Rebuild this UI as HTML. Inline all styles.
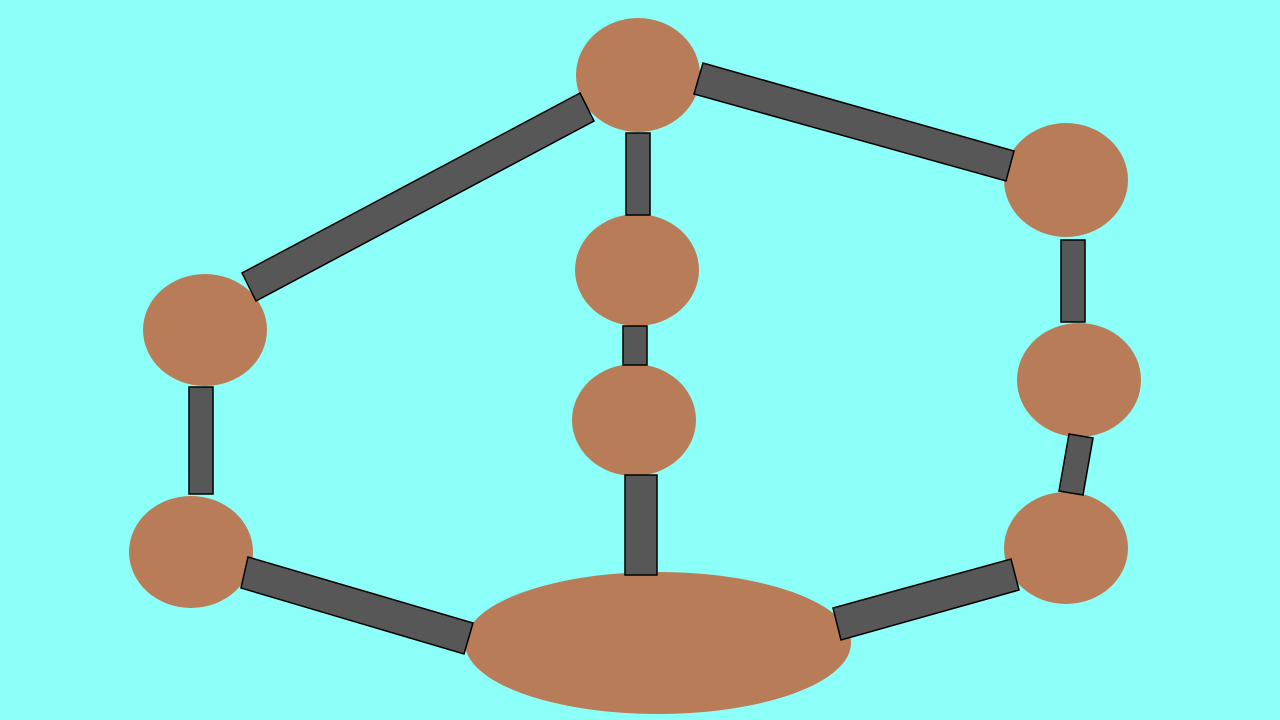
<!DOCTYPE html>
<html><head><meta charset="utf-8"><style>
html,body{margin:0;padding:0;background:#8cfff8;}
svg{display:block;}
</style></head><body>
<svg id="diagram" width="1280" height="720" viewBox="0 0 1280 720" xmlns="http://www.w3.org/2000/svg">
<rect width="1280" height="720" fill="#8cfff8"/>
<g id="nodes"></g>
<g id="edges"></g>
</svg>
<script>
const nodeNames=["node-top","node-right-top","node-center-upper","node-left-upper","node-right-middle","node-center-lower","node-left-lower","node-right-lower","node-bottom-hub"];
const nodes=[[638,75,62,57],[1066,180,62,57],[637,270,62,56],[205,330,62,56],[1079,380,62,57],[634,420,62,56],[191,552,62,56],[1066,548,62,56],[658,643,193,71]];
const edgeNames=["edge-top-left","edge-top-right","edge-top-center","edge-center-mid","edge-center-bottom","edge-right-upper","edge-right-middle","edge-right-bottom","edge-left-bottom","edge-left-vertical"];
const edges=[
 [[580,93],[594,121],[256,301],[242,273]],
 [[703,63],[1014,151],[1006,181],[694,94]],
 [[626,133],[650,133],[650,215],[626,215]],
 [[623,326],[647,326],[647,365],[623,365]],
 [[625,475],[657,475],[657,575],[625,575]],
 [[1061,240],[1085,240],[1085,322],[1061,322]],
 [[1069,434],[1093,438],[1083,495],[1059,491]],
 [[833,608],[1011,559],[1019,590],[841,640]],
 [[248,557],[473,623],[464,654],[241,588]],
 [[189,387],[213,387],[213,494],[189,494]]
];
const NS="http://www.w3.org/2000/svg";
const ng=document.getElementById('nodes');
nodes.forEach((n,i)=>{
 const e=document.createElementNS(NS,'ellipse');
 e.setAttribute('cx',n[0]);e.setAttribute('cy',n[1]);e.setAttribute('rx',n[2]);e.setAttribute('ry',n[3]);
 e.setAttribute('fill','#b87d58');
 
 
 ng.appendChild(e);
});
const eg=document.getElementById('edges');
edges.forEach((p,i)=>{
 const e=document.createElementNS(NS,'polygon');
 e.setAttribute('points',p.map(q=>q.join(',')).join(' '));
 e.setAttribute('fill','#575757');e.setAttribute('stroke','#000');e.setAttribute('stroke-width','1.5');
 
 
 eg.appendChild(e);
});
</script>
</body></html>
